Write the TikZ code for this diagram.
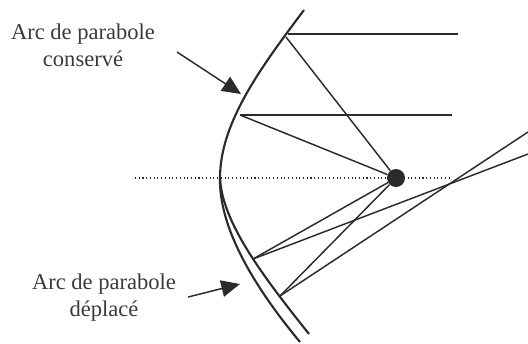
\documentclass[tikz,border=0pt]{standalone}
\usepackage{fontspec}
\setmainfont{Liberation Serif}
\usetikzlibrary{arrows.meta}
\definecolor{ink}{HTML}{2B2B2B}
\definecolor{txt}{HTML}{3A3A3A}
\tikzset{
  curve/.style={draw=ink,line width=1.6pt},
  ray/.style={draw=ink,line width=1.1pt},
  axisline/.style={draw=ink,line width=0.8pt,dotted},
  callout/.style={draw=ink,line width=1.1pt,-{Triangle[length=14pt,width=12.5pt]},shorten >=0pt},
  lab/.style={text=txt,font=\fontsize{16.9}{20.2}\selectfont,align=center,inner sep=0pt},
  focusdot/.style={circle,fill=ink,minimum size=13.5pt,inner sep=0pt}
}
\begin{document}
\begin{tikzpicture}[x=0.75pt,y=-0.75pt]
\useasboundingbox (0,0) rectangle (528,343);
\coordinate (top) at (304,10);
\coordinate (v) at (220,178);
\coordinate (endA) at (300,342);
\coordinate (endB) at (309,334);
\coordinate (P1) at (288,34);
\coordinate (P1b) at (286,37);
\coordinate (P2) at (240,115);
\coordinate (P3) at (253,259);
\coordinate (P4) at (280,296);
\coordinate (E1) at (458,34);
\coordinate (E2) at (452,115);
\coordinate (E3) at (528,154);
\coordinate (E4) at (528,132);
\coordinate (axL) at (135,178);
\coordinate (axR) at (450,178);
\draw[axisline] (axL) -- (axR);
\draw[curve] (top) .. controls (262,66) and (220,122) .. (v);
\draw[curve] (v) .. controls (219,226) and (251,283) .. (endA);
\draw[curve] (v) .. controls (222,222) and (262,275) .. (endB);
\node[focusdot] (F) at (396,178) {};
\draw[ray] (P1) -- (E1);
\draw[ray] (P2) -- (E2);
\draw[ray] (P1b) -- (F);
\draw[ray] (P2) -- (F);
\draw[ray] (P3) -- (F);
\draw[ray] (P4) -- (F);
\draw[ray] (P3) -- (E3);
\draw[ray] (P4) -- (E4);
\node[lab] (t1) at (83,45) {Arc de parabole\\conservé};
\node[lab] (t2) at (104,298) {Arc de parabole\\déplacé};
\coordinate (a1s) at (177,52);
\coordinate (a1e) at (241,94);
\coordinate (a2s) at (188,297);
\coordinate (a2e) at (240,284);
\draw[callout] (a1s) -- (a1e);
\draw[callout] (a2s) -- (a2e);
\end{tikzpicture}
\end{document}
